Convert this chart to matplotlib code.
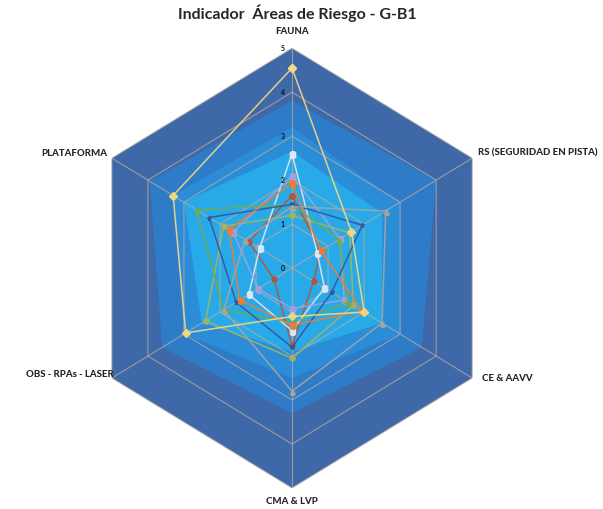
import numpy as np
import matplotlib.pyplot as plt

plt.rcParams['font.family'] = ['Lato', 'DejaVu Sans']

titulo = "Indicador  Áreas de Riesgo - G-B1"
categorias = ["FAUNA", "RS (SEGURIDAD EN PISTA)", "CE & AAVV", "CMA & LVP",
              "OBS - RPAs - LASER", "PLATAFORMA"]
niveles = [0, 1, 2, 3, 4, 5]

# bandas de fondo (series rellenas)
zona_1 = [5, 5, 5, 5, 5, 5]
zona_2 = [3.8, 4.0, 3.6, 3.3, 3.6, 3.95]
zona_3 = [3.2, 3.0, 3.0, 2.5, 3.0, 3.3]
zona_4 = [2.65, 2.5, 2.5, 1.9, 2.5, 3.0]

# series de indicadores
serie_oro = [4.55, 1.65, 2.0, 1.1, 2.95, 3.3]
serie_gris = [1.4, 2.6, 2.5, 2.8, 1.9, 1.3]
serie_naranja = [1.93, 0.8, 1.95, 1.3, 1.45, 1.75]
serie_azul = [1.45, 1.95, 1.1, 1.8, 1.55, 2.3]
serie_verde = [1.45, 1.3, 1.55, 1.24, 1.9, 2.65]
serie_lila = [2.1, 1.33, 1.45, 0.92, 0.94, 1.64]
serie_blanca = [2.6, 0.7, 0.9, 1.42, 1.2, 0.9]
serie_roja = [1.65, 0.8, 0.6, 1.77, 0.5, 1.2]
serie_oliva = [1.2, 1.6, 1.7, 2.05, 2.4, 1.9]

n = len(categorias)
ang = np.linspace(0, 2 * np.pi, n, endpoint=False)
ang_c = np.append(ang, ang[0])


def cerrar(v):
    return np.append(v, v[0])


fig = plt.figure(figsize=(6.03, 5.09), dpi=100)
ax = fig.add_axes([0.1393, 0.0413, 0.690, 0.864], projection='polar')
ax.set_aspect('auto')
ax.set_theta_offset(np.pi / 2)
ax.set_theta_direction(-1)
ax.set_ylim(0, 5)
ax.grid(False)
ax.spines['polar'].set_visible(False)
ax.set_xticks([])
ax.set_yticks([])
ax.patch.set_visible(False)

# fondo por bandas
for zona, col in [(zona_1, '#3f68a8'), (zona_2, '#2e7cc8'),
                  (zona_3, '#2b8cd8'), (zona_4, '#29aae8')]:
    ax.fill(ang_c, cerrar(zona), color=col, lw=0, zorder=1)

# rejilla hexagonal
for lv in niveles[1:]:
    ax.plot(ang_c, [lv] * (n + 1), color='#b8aca0', lw=0.8, alpha=0.75, zorder=2)
for a in ang:
    ax.plot([a, a], [0, 5], color='#b8aca0', lw=0.8, alpha=0.75, zorder=2)

series = [
    (serie_oliva, '#a8b45c', 'o'),
    (serie_roja, '#b5533a', 'o'),
    (serie_blanca, '#dfe8f6', 's'),
    (serie_lila, '#a79fdc', 's'),
    (serie_verde, '#6fae45', '^'),
    (serie_azul, '#34549f', '*'),
    (serie_naranja, '#ed7d31', 's'),
    (serie_gris, '#a5a5a5', '^'),
    (serie_oro, '#f7d983', 'D'),
]
for vals, col, mk in series:
    ax.plot(ang_c, cerrar(vals), color=col, lw=1.1, alpha=0.9,
            marker=mk, ms=3.6, mec=col, zorder=3)

# etiquetas de escala
for lv in niveles:
    ax.annotate(str(lv), (0, lv), xytext=(-9, 0), textcoords='offset pixels',
                ha='center', va='center', fontsize=5, fontweight='bold',
                color='#111111', zorder=5)

# etiquetas de categorías
offs = [(0, 17, 'center', 'center'), (6, 5, 'left', 'center'),
        (10, 0, 'left', 'center'), (0, -14, 'center', 'center'),
        (2, 4, 'right', 'center'), (-5, 5, 'right', 'center')]
for a, lab, (dx, dy, ha, va) in zip(ang, categorias, offs):
    ax.annotate(lab, (a, 5), xytext=(dx, dy), textcoords='offset pixels',
                ha=ha, va=va, fontsize=6.9, fontweight='black', color='#262626',
                annotation_clip=False)

fig.text(0.493, 0.973, titulo, ha='center', va='center', fontsize=11.5,
         fontweight='bold', color='#262626')

fig.savefig('out.png', dpi=100)
